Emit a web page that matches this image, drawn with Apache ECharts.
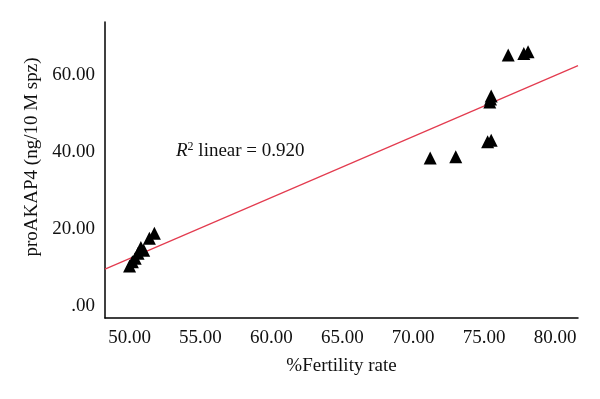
<!DOCTYPE html>
<html>
<head>
<meta charset="utf-8">
<script src="https://cdn.jsdelivr.net/npm/echarts@6/dist/echarts.min.js"></script>
<style>html,body{margin:0;padding:0;background:#fff}#c{width:600px;height:399px}</style>
</head>
<body>
<div id="c"></div>
<script>
// Data
var fertility = [50.0, 50.2, 50.4, 50.6, 50.8, 51.0, 51.4, 51.75, 71.2, 73.0, 75.25, 75.5, 75.4, 75.45, 75.5, 76.7, 77.8, 78.1];
var proAKAP4  = [10.4, 11.5, 12.4, 13.7, 15.2, 14.5, 17.6, 18.9, 38.5, 38.8, 42.7, 43.1, 53.0, 53.8, 54.6, 65.2, 65.6, 66.1];
var xTicks = [50, 55, 60, 65, 70, 75, 80];
var yTicks = [0, 20, 40, 60];
var fitIntercept = 9.6;   // y at x = 48.27
var fitSlope = 1.585;
var xRange = [48.27, 81.62];
var yRange = [-3.1, 73.8];

var points = fertility.map(function (x, i) { return [x, proAKAP4[i]]; });
var fitLine = xRange.map(function (x) { return [x, fitIntercept + fitSlope * (x - xRange[0])]; });

function fmt(v) {
  if (v === 0) return '.00';
  return v.toFixed(2);
}

var font = 'Liberation Serif';
var chart = echarts.init(document.getElementById('c'));
chart.setOption({
  animation: false,
  grid: { left: 105, right: 22, top: 22, bottom: 81 },
  xAxis: {
    type: 'value', min: xRange[0], max: xRange[1],
    axisLine: { show: true, onZero: false, lineStyle: { color: '#000', width: 1.5 } },
    axisTick: { show: false },
    splitLine: { show: false },
    axisLabel: {
      margin: 11, color: '#111', fontFamily: font, fontSize: 19,
      customValues: xTicks, formatter: fmt
    },
    name: '%Fertility rate', nameLocation: 'middle', nameGap: 39,
    nameTextStyle: { color: '#111', fontFamily: font, fontSize: 19 }
  },
  yAxis: {
    type: 'value', min: yRange[0], max: yRange[1],
    axisLine: { show: true, onZero: false, lineStyle: { color: '#000', width: 1.5 } },
    axisTick: { show: false },
    splitLine: { show: false },
    axisLabel: {
      margin: 10, color: '#111', fontFamily: font, fontSize: 19,
      customValues: yTicks, formatter: fmt
    },
    name: 'proAKAP4 (ng/10 M spz)', nameLocation: 'middle', nameGap: 63,
    nameTextStyle: { color: '#111', fontFamily: font, fontSize: 19, padding: [0, 0, 0, 26] }
  },
  graphic: [{
    type: 'text', left: 176, top: 141,
    style: {
      text: '{i|R}{s|2}{n| linear = 0.920}',
      rich: {
        i: { fontFamily: font, fontStyle: 'italic', fontSize: 19, fill: '#111' },
        s: { fontFamily: font, fontSize: 12, fill: '#111', verticalAlign: 'top', padding: [0, 0, 8, 0] },
        n: { fontFamily: font, fontSize: 19, fill: '#111' }
      }
    }
  }],
  series: [{
    type: 'line', data: fitLine, symbol: 'none', silent: true,
    lineStyle: { color: '#e33b4f', width: 1.2 }, z: 1
  }, {
    type: 'scatter', data: points, symbol: 'triangle', symbolSize: 13,
    itemStyle: { color: '#000', opacity: 1 }, z: 2
  }]
});
</script>
</body>
</html>
